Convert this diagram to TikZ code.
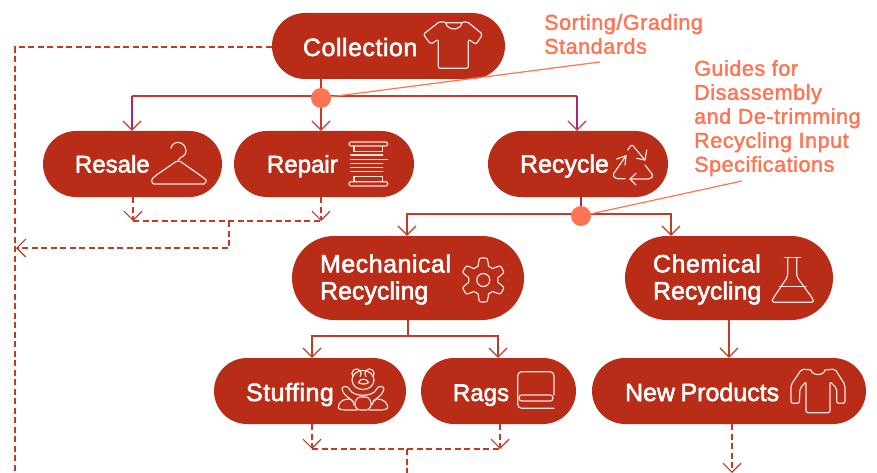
\documentclass[tikz,border=0pt]{standalone}
\usepackage{fontspec}
\setmainfont{Liberation Sans}
\newfontfamily\pillfont[FakeBold=2.2,LetterSpace=2]{Liberation Sans}
\newfontfamily\pilltight[FakeBold=2.2]{Liberation Sans}
\newfontfamily\pillsmall[FakeBold=2.2,Scale=0.96]{Liberation Sans}
\newfontfamily\notefont[FakeBold=1.8,LetterSpace=2.7]{Liberation Sans}
\usetikzlibrary{arrows.meta}
\definecolor{pillred}{HTML}{B92D18}
\definecolor{linered}{HTML}{C23B28}
\definecolor{plum}{HTML}{A32A78}
\definecolor{coral}{HTML}{FF7452}
\definecolor{iconline}{HTML}{F9E4DE}
\tikzset{
  x=1pt,y=-1pt,
  pill/.style={fill=pillred,text=white,font=\pillfont\fontsize{25}{27}\selectfont,align=left,inner ysep=0pt,anchor=center},
  rowlow/.style={text height=20pt,text depth=0pt},
  rowhigh/.style={text height=17pt,text depth=0pt},
  note/.style={text=coral,font=\notefont\fontsize{21.5}{24}\selectfont,align=left,anchor=north west,inner sep=0pt},
  tip/.style={-{Straight Barb[length=9pt,width=18pt,line width=1.2pt,color=linered]}},
  link/.style={draw=linered,line width=1.2pt},
  plumlink/.style={draw=plum,line width=1.2pt},
  back/.style={draw=linered,line width=1.2pt,dash pattern=on 6pt off 3.5pt},
  hubdot/.style={circle,fill=coral,minimum size=20pt,inner sep=0pt},
  leader/.style={draw=coral,line width=1.2pt},
  icon/.style={draw=iconline,line width=1.2pt,line join=round,line cap=round},
}
\begin{document}
\begin{tikzpicture}
\useasboundingbox (0,0) rectangle (877,473);
% pills
\node[pill,rowlow,minimum width=233pt,minimum height=66pt,rounded corners=33pt,text width=171pt,inner xsep=31pt] (collection) at (388.5,46) {Collection};
\node[pill,rowhigh,minimum width=179pt,minimum height=66pt,rounded corners=33pt,text width=115pt,inner xsep=32pt] (resale) at (132.5,164) {\pillsmall Resale};
\node[pill,rowhigh,minimum width=180pt,minimum height=66pt,rounded corners=33pt,text width=114pt,inner xsep=33pt] (repair) at (324,164) {\pillsmall Repair};
\node[pill,rowhigh,minimum width=180pt,minimum height=66pt,rounded corners=33pt,text width=116pt,inner xsep=32pt] (recycle) at (578,164) {\pilltight Recycle};
\node[pill,minimum width=232pt,minimum height=84pt,rounded corners=42pt,text width=176pt,inner xsep=28pt] (mech) at (408,278) {\rule{0pt}{21pt}Mechanical\\\pilltight Recycling};
\node[pill,minimum width=208pt,minimum height=84pt,rounded corners=42pt,text width=152pt,inner xsep=28pt] (chem) at (729,278) {\rule{0pt}{21pt}Chemical\\\pilltight Recycling};
\node[pill,rowlow,minimum width=192pt,minimum height=66pt,rounded corners=33pt,text width=128pt,inner xsep=32pt] (stuffing) at (310,391) {Stuffing};
\node[pill,rowlow,minimum width=155pt,minimum height=66pt,rounded corners=33pt,text width=91pt,inner xsep=32pt] (rags) at (498.5,391) {\pillsmall Rags};
\node[pill,rowlow,minimum width=274pt,minimum height=66pt,rounded corners=33pt,text width=208pt,inner xsep=33pt] (newprod) at (729,391) {\pilltight New\hskip5.5pt Products};
% notes
\node[note] (sorting) at (544,14) {Sorting/Grading\\Standards};
\node[note] (guides) at (694,60) {Guides for\\Disassembly\\and De-trimming\\Recycling Input\\Specifications};
% helper coordinates
\coordinate (hubA) at (321,98);
\coordinate (hubB) at (581,216);
\coordinate (barA) at (321,96);
\coordinate (barB) at (581,214);
\coordinate (barC) at (408,336);
\coordinate (cornerRes) at (132,96);
\coordinate (cornerRec) at (577,96);
\coordinate (sortEnd) at (600,62);
\coordinate (guideEnd) at (742,181);
\coordinate (leftRail) at (15,473);
\coordinate (railJoin) at (16,248);
\coordinate (dropA) at (229,221);
\coordinate (dropB) at (407,449);
\coordinate (dropBEnd) at (407,473);
\coordinate (npEnd) at (732,473);
% solid links
\draw[link] (cornerRes) -- (cornerRec);
\draw[plumlink,tip] (cornerRes) -- (resale.north -| cornerRes);
\draw[plumlink,tip] (cornerRec) -- (recycle.north -| cornerRec);
\draw[link] (collection.south -| hubA) -- (hubA);
\draw[link,tip] (hubA) -- (repair.north -| hubA);
\draw[plumlink] (recycle.south -| hubB) -- (hubB);
\draw[link,tip] (barB) -| (mech.north -| 407,0);
\draw[link,tip] (barB) -| (chem.north -| 671,0);
\draw[link] (mech.south -| barC) -- (barC);
\draw[link,tip] (barC) -| (stuffing.north -| 312,0);
\draw[link,tip] (barC) -| (rags.north -| 498,0);
\draw[link,tip] (chem.south) -- (newprod.north);
% dashed links
\draw[back] (collection.west |- 0,47) -| (leftRail);
\draw[back,tip] (resale.south -| 133,0) -- (133,221);
\draw[back,tip] (repair.south -| 321,0) -- (321,221);
\draw[back] (133,221) -- (321,221);
\draw[back,tip] (dropA) |- (railJoin);
\draw[back,tip] (stuffing.south -| 312,0) -- (312,449);
\draw[back,tip] (rags.south -| 500,0) -- (500,449);
\draw[back] (312,449) -- (500,449);
\draw[back] (dropB) -- (dropBEnd);
\draw[back,tip] (newprod.south -| npEnd) -- (npEnd);
% leaders and hubs
\draw[leader] (hubA) -- (sortEnd);
\draw[leader] (hubB) -- (guideEnd);
\node[hubdot] (hubAdot) at (hubA) {};
\node[hubdot] (hubBdot) at (hubB) {};
% tee
\draw[icon,rounded corners=2pt] (445.7,22.7) -- (440,21.3) -- (423.3,34.3) -- (430.7,44.3) -- (438.3,39.3) -- (438.3,68.3) -- (468.3,68.3) -- (468.3,39.3) -- (476,44.3) -- (482.7,34.3) -- (466.7,21.3) -- (462,22.7);
\draw[icon] (445.7,22.7) .. controls (447,31) and (460.7,31) .. (462,22.7) -- (445.7,22.7);
% hanger
\draw[icon] (171,148.3) .. controls (172,140) and (186,140) .. (186,151.7) .. controls (186,156) and (180,157) .. (178.3,160);
\draw[icon,rounded corners=3pt] (178.3,160) -- (155,176) .. controls (150,181) and (153,184) .. (157,184) -- (201,184) .. controls (205,184) and (207,181) .. (204,178) -- cycle;
% spool
\draw[icon,rounded corners=2pt] (349,142) rectangle (387.7,146);
\draw[icon] (354,146) -- (354,151.7) -- (382.3,151.7) -- (382.3,146);
\draw[icon] (350.7,155) -- (382.7,155) (350.7,159.3) -- (387.7,159.3) (350.7,163.3) -- (382.7,163.3) (350.7,167.7) -- (382.7,167.7) (350.7,171.7) -- (382.7,171.7);
\draw[icon] (354,181.7) -- (354,176.7) -- (382.3,176.7) -- (382.3,181.7);
\draw[icon,rounded corners=2pt] (349,181.7) rectangle (387.7,186);
% recycle
\draw[icon,rounded corners=1.5pt] (627.7,150) -- (631.7,144.3) -- (645,160);
\draw[icon] (636.7,158.3) -- (645,160) -- (646.7,150);
\draw[icon,rounded corners=1.5pt] (626,155.7) -- (612.7,175) -- (616,178.8) -- (625,178.8);
\draw[icon] (616.7,159) -- (626,155.7) -- (625,165);
\draw[icon,rounded corners=1.5pt] (645,165) -- (653.3,175.7) -- (650,179) -- (630,179);
\draw[icon] (636,173.3) -- (630,179) -- (636,185);
% gear
\draw[icon] plot[domain=0:360,samples=145,smooth] ({483.3+(18.3+3.7*min(1,max(-1,-1.8*cos(6*\x))))*cos(\x)},{280+(18.3+3.7*min(1,max(-1,-1.8*cos(6*\x))))*sin(\x)}) -- cycle;
\draw[icon] (483.3,280) circle (6.5pt);
% flask
\draw[icon] (784.3,257.7) -- (800.7,257.7);
\draw[icon,rounded corners=3pt] (787.7,257.7) -- (787.7,276.7) -- (773.3,298) .. controls (772,301) and (774,302.3) .. (777,302.3) -- (809,302.3) .. controls (812,302.3) and (813.5,301) .. (812.3,298) -- (796.7,276.7) -- (796.7,257.7);
\draw[icon] (779.5,286.7) -- (806,286.7);
% teddy
\draw[icon] (363,380) ellipse (11pt and 9.5pt);
\draw[icon] (353,376.5) arc[start angle=220,end angle=-40,radius=4.6pt];
\draw[icon] (373,376.5) arc[start angle=-40,end angle=220,radius=4.6pt];
\draw[icon] (358.5,382.5) .. controls (360,378) and (367,378) .. (368.5,382.5) .. controls (366,384.5) and (361,384.5) .. (358.5,382.5);
\draw[icon] (350,390) .. controls (354,397) and (372,397) .. (376,390) .. controls (379,384) and (386,386) .. (383.5,391) .. controls (381,396) and (377,398) .. (373,401);
\draw[icon] (350,390) .. controls (347,384) and (340,386) .. (342.5,391) .. controls (345,396) and (349,398) .. (353,401);
\draw[icon,rounded corners=3pt] (357,410) .. controls (353,401) and (358,397) .. (363,397) .. controls (368,397) and (373,401) .. (369,410) -- cycle;
\draw[icon,rounded corners=3pt] (357,410) -- (342,410) .. controls (337,408) and (339,402) .. (346,399) .. controls (351,399) and (354,402) .. (354,405);
\draw[icon,rounded corners=3pt] (369,410) -- (384,410) .. controls (389,408) and (387,402) .. (380,399) .. controls (376,399) and (372,402) .. (372,405);
% towel
\draw[icon,rounded corners=4pt] (554,395) -- (554,371.7) -- (517.7,371.7) -- (517.7,408.3) -- (554,408.3);
\draw[icon,rounded corners=2.8pt] (519,395) rectangle (553,401);
% sweater
\draw[icon,rounded corners=2pt] (811,370) -- (801.7,369) -- (791,385) -- (791,403.3) -- (799.3,403.3) -- (800,388.3) -- (806,381.7) -- (806,412.7) -- (830,412.7) -- (830,381.7) -- (836.7,388.3) -- (836.7,403.3) -- (845,403.3) -- (845,385) -- (835,369) -- (825,370);
\draw[icon] (811,370) .. controls (812,376) and (824,376) .. (825,370);
\end{tikzpicture}
\end{document}
